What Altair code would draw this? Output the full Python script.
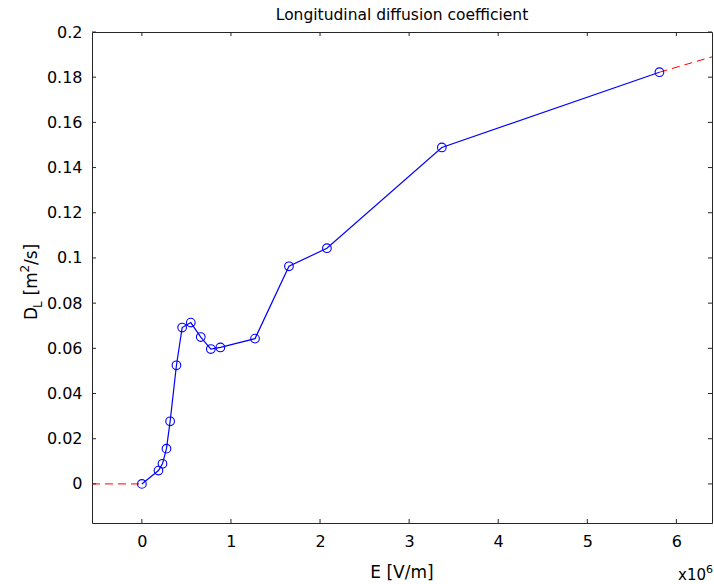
import altair as alt
import pandas as pd

# Data
E_vals = [0.0, 0.186e6, 0.231e6, 0.276e6, 0.317e6, 0.388e6, 0.452e6, 0.549e6,
          0.661e6, 0.774e6, 0.881e6, 1.270e6, 1.651e6, 2.077e6, 3.367e6, 5.81e6]
DL_vals = [0.0, 0.0059, 0.0089, 0.0156, 0.0277, 0.0525, 0.0692, 0.0714,
           0.0650, 0.0597, 0.0604, 0.0643, 0.0963, 0.1043, 0.1489, 0.1822]

ext_seg = ["left", "left", "right", "right"]
ext_E = [-0.56e6, 0.0, 5.81e6, 6.4e6]
ext_DL = [0.0, 0.0, 0.1822, 0.189]

x_ticks = [0, 1e6, 2e6, 3e6, 4e6, 5e6, 6e6]
y_ticks = [0, 0.02, 0.04, 0.06, 0.08, 0.1, 0.12, 0.14, 0.16, 0.18, 0.2]

X_DOMAIN = [-0.56e6, 6.4e6]
Y_DOMAIN = [-0.0173, 0.2]

W, H = 620, 491
FONT = "DejaVu Sans"

df = pd.DataFrame({"E": E_vals, "DL": DL_vals})
df_ext = pd.DataFrame({"seg": ext_seg, "E": ext_E, "DL": ext_DL})
df_xt = pd.DataFrame({"E": x_ticks})
df_yt = pd.DataFrame({"DL": y_ticks})

xs = alt.Scale(domain=X_DOMAIN, nice=False, zero=False)
ys = alt.Scale(domain=Y_DOMAIN, nice=False, zero=False)

x_axis = alt.Axis(values=x_ticks, labelExpr="datum.value / 1000000", ticks=False,
                  grid=False, domain=False, title=None, labelFont=FONT,
                  labelFontSize=16, labelPadding=10, labelColor="#000")
y_axis = alt.Axis(values=y_ticks, format="~g", ticks=False, grid=False,
                  domain=False, title=None, labelFont=FONT, labelFontSize=16,
                  labelPadding=10, labelColor="#000")

ext = alt.Chart(df_ext).mark_line(color="#ff0000", strokeDash=[8, 5],
                                  strokeWidth=1, clip=True).encode(
    x=alt.X("E:Q", scale=xs, axis=x_axis),
    y=alt.Y("DL:Q", scale=ys, axis=y_axis),
    detail="seg:N",
)

line = alt.Chart(df).mark_line(color="#0000ff", strokeWidth=1.2).encode(
    x=alt.X("E:Q", scale=xs),
    y=alt.Y("DL:Q", scale=ys),
)

pts = alt.Chart(df).mark_point(color="#0000ff", filled=False, size=75,
                               strokeWidth=1.1, opacity=1).encode(
    x=alt.X("E:Q", scale=xs),
    y=alt.Y("DL:Q", scale=ys),
)

TL = 4
tick_col = "#262626"
bt = alt.Chart(df_xt).mark_rule(color=tick_col, strokeWidth=1).encode(
    x=alt.X("E:Q", scale=xs), y=alt.value(H), y2=alt.value(H - TL))
tt = alt.Chart(df_xt).mark_rule(color=tick_col, strokeWidth=1).encode(
    x=alt.X("E:Q", scale=xs), y=alt.value(0), y2=alt.value(TL))
lt = alt.Chart(df_yt).mark_rule(color=tick_col, strokeWidth=1).encode(
    y=alt.Y("DL:Q", scale=ys), x=alt.value(0), x2=alt.value(TL))
rt = alt.Chart(df_yt).mark_rule(color=tick_col, strokeWidth=1).encode(
    y=alt.Y("DL:Q", scale=ys), x=alt.value(W), x2=alt.value(W - TL))


def txt(text, x, y, size, angle=0, align="left"):
    props = dict(text=text, font=FONT, fontSize=size, color="#000",
                 align=align, baseline="alphabetic")
    if angle:
        props["angle"] = angle
    return alt.Chart(pd.DataFrame({"a": [0]})).mark_text(**props).encode(
        x=alt.value(x), y=alt.value(y))


# title
title = txt("Longitudinal diffusion coefficient", W / 2, -12, 15.5, align="center")

# x axis title and exponent
xt = txt("E [V/m]", W / 2, H + 55, 17, align="center")
x10 = txt("x10", 614, H + 57, 15, align="right")
x6 = txt("6", 621, H + 50, 11, align="right")

# y axis title D_L [m^2/s]
yD = txt("D", -55, 288, 17, angle=270)
yL = txt("L", -50, 276, 12, angle=270)
ym = txt("[m", -55, 263.5, 17, angle=270)
y2 = txt("2", -63, 240.5, 12, angle=270)
ys_ = txt("/s]", -55, 233, 17, angle=270)

chart = alt.layer(ext, line, pts, bt, tt, lt, rt, title, xt, x10, x6,
                  yD, yL, ym, y2, ys_).properties(
    width=W, height=H,
    autosize=alt.AutoSizeParams(type="none"),
    padding={"left": 92, "top": 32, "right": 2, "bottom": 61},
    background="white",
).configure_view(stroke="#262626", strokeWidth=1)

chart.save("out.html", embed_options={"renderer": "svg", "actions": False})
